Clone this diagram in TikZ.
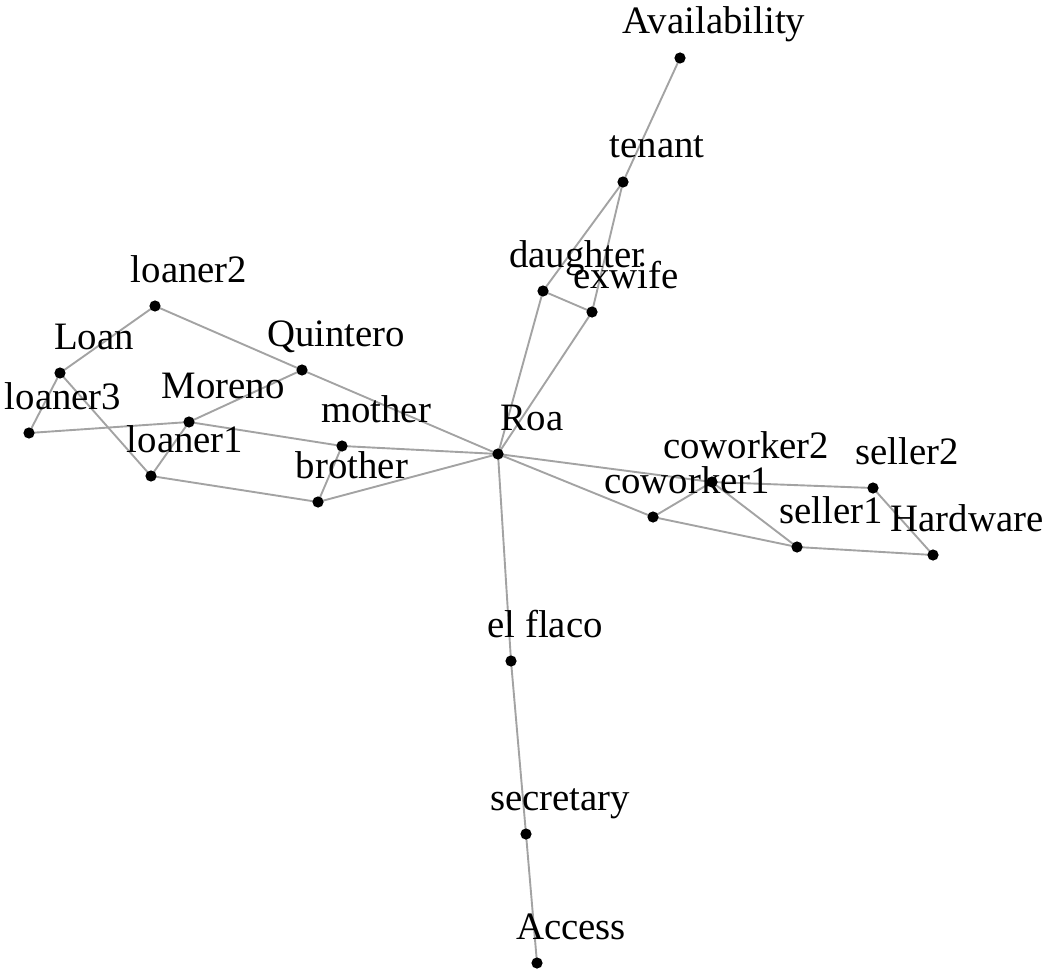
\documentclass[tikz,border=0pt]{standalone}
\usepackage{fontspec}
\setmainfont{Liberation Serif}
\begin{document}
\begin{tikzpicture}[x=0.5pt,y=-0.5pt,
  vtx/.style={circle,fill=black,inner sep=0pt,minimum size=5.6pt},
  edge/.style={draw=black!36,line width=0.95pt},
  lbl/.style={anchor=base,inner sep=0pt,font=\fontsize{19.4pt}{22pt}\selectfont}]
\useasboundingbox (0,0) rectangle (1050,974);
% vertices
\foreach \n/\x/\y in {Availability/680/58, tenant/623/182, daughter/543/291, exwife/592/312,
  Roa/498/454, loaner2/155/306, Loan/60/373, loaner3/29/433, Moreno/189/422,
  Quintero/302/370, mother/342/446, loaner1/151/476, brother/318/502,
  coworker2/712/482, coworker1/653/517, seller2/873/488, seller1/797/547,
  Hardware/933/555, elflaco/511/661, secretary/526/834, Access/537/963}
  {\coordinate (\n) at (\x,\y);}
% edges
\foreach \a/\b in {Availability/tenant, tenant/daughter, tenant/exwife, daughter/exwife,
  daughter/Roa, exwife/Roa, Roa/mother, mother/Moreno, loaner3/Moreno, Loan/loaner3,
  Loan/loaner2, Loan/loaner1, loaner1/Moreno, Moreno/Quintero, loaner2/Quintero,
  Quintero/Roa, loaner1/brother, brother/mother, brother/Roa, Roa/coworker1,
  Roa/coworker2, coworker2/seller2, coworker1/coworker2, coworker1/seller1,
  coworker2/seller1, seller1/Hardware, seller2/Hardware, Roa/elflaco,
  elflaco/secretary, secretary/Access}
  {\draw[edge] (\a) -- (\b);}
% dots and labels
\foreach \n/\t in {Availability/Availability, tenant/tenant, daughter/daughter, exwife/exwife,
  Roa/Roa, loaner2/loaner2, Loan/Loan, loaner3/loaner3, Moreno/Moreno,
  Quintero/Quintero, mother/mother, loaner1/loaner1, brother/brother,
  coworker2/coworker2, coworker1/coworker1, seller2/seller2, seller1/seller1,
  Hardware/Hardware, elflaco/el flaco, secretary/secretary, Access/Access}
  {\node[vtx] (d-\n) at (\n) {};
   \node[lbl] (l-\n) at ([shift={(34,-24)}]\n) {\t};}
\end{tikzpicture}
\end{document}
